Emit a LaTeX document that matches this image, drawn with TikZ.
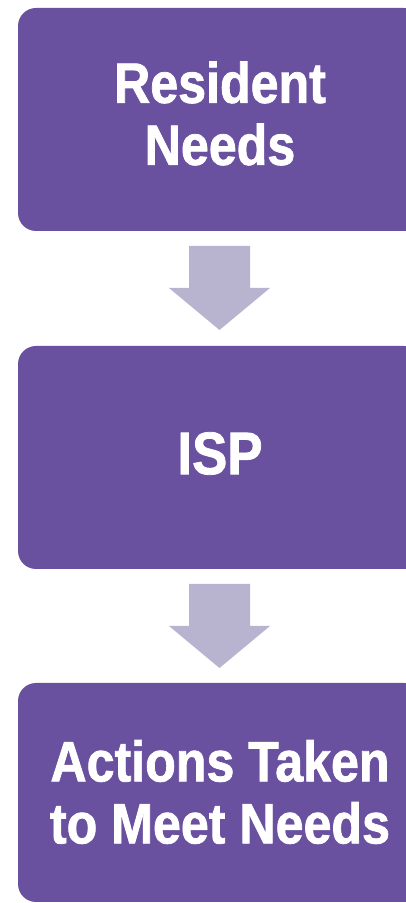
\documentclass[tikz,border=0pt]{standalone}
\usepackage{fontspec}
\newfontfamily\boxfont{Liberation Sans}[FakeStretch=0.88, FakeBold=1.3]
\definecolor{boxpurple}{HTML}{6A51A0}
\definecolor{arrowlilac}{HTML}{B8B4CF}
\begin{document}
\begin{tikzpicture}[x=1pt,y=1pt,
  stage/.style={fill=boxpurple, draw=none, rounded corners=18pt,
    minimum width=404pt, minimum height=223pt, inner sep=0pt},
  stagetext/.style={text=white, align=center, inner sep=0pt,
    font=\boxfont\bfseries\fontsize{57}{62}\selectfont},
  flowarrow/.style={fill=arrowlilac, draw=none}]
  % canvas; the stage boxes run off the right edge
  \useasboundingbox (0,0) rectangle (406,903);
  \clip (0,0) rectangle (406,903);
  % stage boxes
  \node[stage] (b1) at (220,783.5) {};
  \node[stage] (b2) at (220,445.5) {};
  \node[stage, minimum height=219pt] (b3) at (220,110.5) {};
  % labels
  \node[stagetext] (t1) at (220,789.5) {Resident\\Needs};
  \node[stagetext, font=\boxfont\bfseries\fontsize{60}{66}\selectfont] (t2) at (220,449.5) {ISP};
  \node[stagetext] (t3) at (220,111) {Actions Taken\\to Meet Needs};
  % block arrows between stages
  \coordinate (a1) at (219.5,657);
  \coordinate (a2) at (219.5,319);
  \foreach \a in {a1,a2}{
    \fill[flowarrow] (\a) ++(-30.5,0) -- ++(61,0) -- ++(0,-42) -- ++(20,0)
      -- ++(-50.5,-42) -- ++(-50.5,42) -- ++(20,0) -- cycle;
  }
\end{tikzpicture}
\end{document}
